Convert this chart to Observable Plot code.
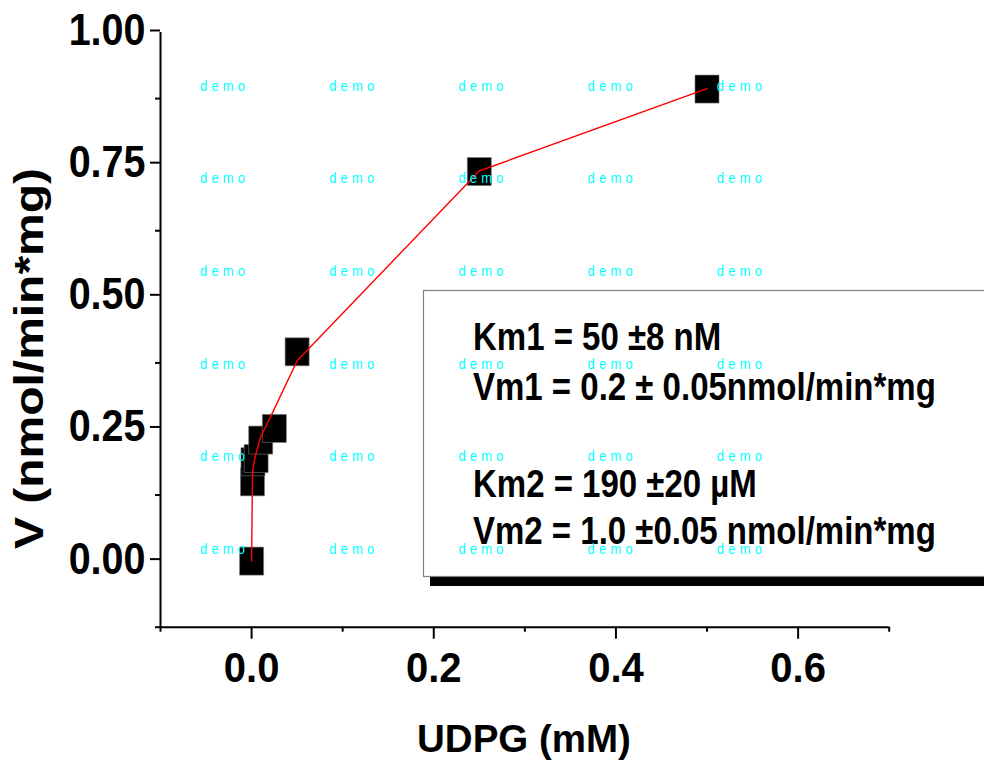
<!DOCTYPE html>
<html><head><meta charset="utf-8">
<script src="https://cdn.jsdelivr.net/npm/d3@7"></script>
<script src="https://cdn.jsdelivr.net/npm/@observablehq/plot@0.6"></script>
<style>
html,body{margin:0;padding:0;background:#fff;overflow:hidden}
svg{display:block}
</style>
</head><body><div id="chart"></div>
<script>
// ---- data ----
const concS = [0, 0.001, 0.0015, 0.005, 0.01, 0.025, 0.05, 0.25, 0.5];          // UDPG (mM)
const rateV = [0, 0.15, 0.188, 0.194, 0.229, 0.251, 0.396, 0.737, 0.893];      // V observed
const fitS  = [0, 0.001, 0.0025, 0.005, 0.01, 0.025, 0.05, 0.25, 0.5];         // fitted curve x
const fitV  = [0, 0.165, 0.185, 0.205, 0.235, 0.288, 0.379, 0.738, 0.894];     // fitted curve y
const yMajorTicks = [0, 0.25, 0.5, 0.75, 1.0];
const yMinorTicks = [-0.125, 0.125, 0.375, 0.625, 0.875];
const xMajorTicks = [0, 0.2, 0.4, 0.6];
const xMinorTicks = [-0.1, 0.1, 0.3, 0.5, 0.7];
const xTitle = "UDPG (mM)";
const yTitle = "V (nmol/min*mg)";
const fitResults = [
  "Km1 = 50 \u00B18 nM",
  "Vm1 = 0.2 \u00B1 0.05nmol/min*mg",
  "Km2 = 190 \u00B120 \u00B5M",
  "Vm2 = 1.0 \u00B10.05 nmol/min*mg"
];
const watermark = "demo";

// ---- build ----
const points = concS.map((s, i) => ({s, v: rateV[i]}));
const fit = fitS.map((s, i) => ({s, v: fitV[i]}));
const FONT = "'Liberation Sans', Arial, Helvetica, sans-serif";

// rectangular marker (slightly taller than wide, as in the reference)
const boxSymbol = {
  draw(ctx, size) {
    const r = Math.sqrt(size / Math.PI);
    const w = r * 12 / 14, h = r;
    ctx.moveTo(-w, -h); ctx.lineTo(w, -h); ctx.lineTo(w, h); ctx.lineTo(-w, h); ctx.closePath();
  }
};

const W = 984, H = 768;
const svgEl = Plot.plot({
  width: W, height: H,
  marginLeft: 160, marginRight: 95.3, marginTop: 32, marginBottom: 141.3,
  style: {fontFamily: FONT, background: "#fff", color: "#000"},
  x: {domain: [-0.1, 0.7]},
  y: {domain: [-0.125, 1.0]},
  marks: [
    Plot.ruleX([-0.1], {y1: -0.125, y2: 1.0, stroke: "#000", strokeWidth: 2}),
    Plot.ruleY([-0.125], {x1: -0.1, x2: 0.7, stroke: "#000", strokeWidth: 2}),
    Plot.axisY(yMajorTicks, {anchor: "left", tickSize: 10, tickPadding: 5, strokeWidth: 2,
      tickFormat: d3.format(".2f"), fontSize: 39.5, fontWeight: "bold", dy: -2, label: null}),
    Plot.axisY(yMinorTicks, {anchor: "left", tickSize: 5, strokeWidth: 2, text: null, label: null}),
    Plot.axisX(xMajorTicks, {anchor: "bottom", tickSize: 12, tickPadding: 13, strokeWidth: 2,
      tickFormat: d3.format(".1f"), fontSize: 40, fontWeight: "bold", label: null}),
    Plot.axisX(xMinorTicks, {anchor: "bottom", tickSize: 5, strokeWidth: 2, text: null, label: null}),
    Plot.dot(points, {x: "s", y: "v", symbol: boxSymbol, r: 14, fill: "#000", stroke: "#777", strokeWidth: 0.6}),
    Plot.line(fit, {x: "s", y: "v", stroke: "#ff0000", strokeWidth: 1.4})
  ]
});
document.getElementById("chart").appendChild(svgEl);
const svg = d3.select(svgEl);

function stretch(sel, sx, sy) {
  sel.each(function () {
    const t = d3.select(this);
    let tr = t.attr("transform") || "";
    const x = +t.attr("x") || 0, y = +t.attr("y") || 0;
    if (x || y) { tr = `translate(${x},${y}) ` + tr; t.attr("x", null).attr("y", null); }
    t.attr("transform", `${tr} scale(${sx},${sy})`);
  });
}
stretch(svg.selectAll('g[aria-label="y-axis tick label"] text'), 1, 1.14);
stretch(svg.selectAll('g[aria-label="x-axis tick label"] text'), 1, 1.05);

// axis titles
svg.append("text").text(xTitle)
  .attr("transform", "translate(524,751.5) scale(1,1.03)")
  .attr("text-anchor", "middle").attr("font-size", 38.5).attr("font-weight", "bold")
  .attr("font-family", FONT).attr("fill", "#000");
svg.append("text").text(yTitle)
  .attr("transform", "translate(43,549) rotate(-90) scale(1.17,1)")
  .attr("text-anchor", "start").attr("font-size", 41).attr("font-weight", "bold")
  .attr("font-family", FONT).attr("fill", "#000");

// results box with shadow
const box = svg.append("g").attr("text-anchor", "start");
box.append("rect").attr("x", 430).attr("y", 300).attr("width", 600).attr("height", 286).attr("fill", "#000");
box.append("rect").attr("x", 423.5).attr("y", 290.5).attr("width", 600).attr("height", 286)
  .attr("fill", "#fff").attr("stroke", "#808080").attr("stroke-width", 1.2);
const baselines = [350, 399.5, 496.5, 544];
fitResults.forEach((s, i) => {
  box.append("text").text(s)
    .attr("transform", `translate(473,${baselines[i]}) scale(1,1.19)`)
    .attr("text-anchor", "start")
    .attr("font-size", 33).attr("font-weight", "bold").attr("font-family", FONT).attr("fill", "#000");
});

// watermark overlay
const wm = svg.append("g").attr("font-family", FONT).attr("font-size", 13).attr("fill", "#00ffff")
  .attr("text-anchor", "start").attr("letter-spacing", 4.2);
for (let r = 0; r < 6; r++) {
  for (let c = 0; c < 5; c++) {
    wm.append("text").text(watermark)
      .attr("text-anchor", "start")
      .attr("transform", `translate(${200 + c * 129.2},${90.7 + r * 92.6}) scale(1,1.17)`);
  }
}
</script>
</body></html>
